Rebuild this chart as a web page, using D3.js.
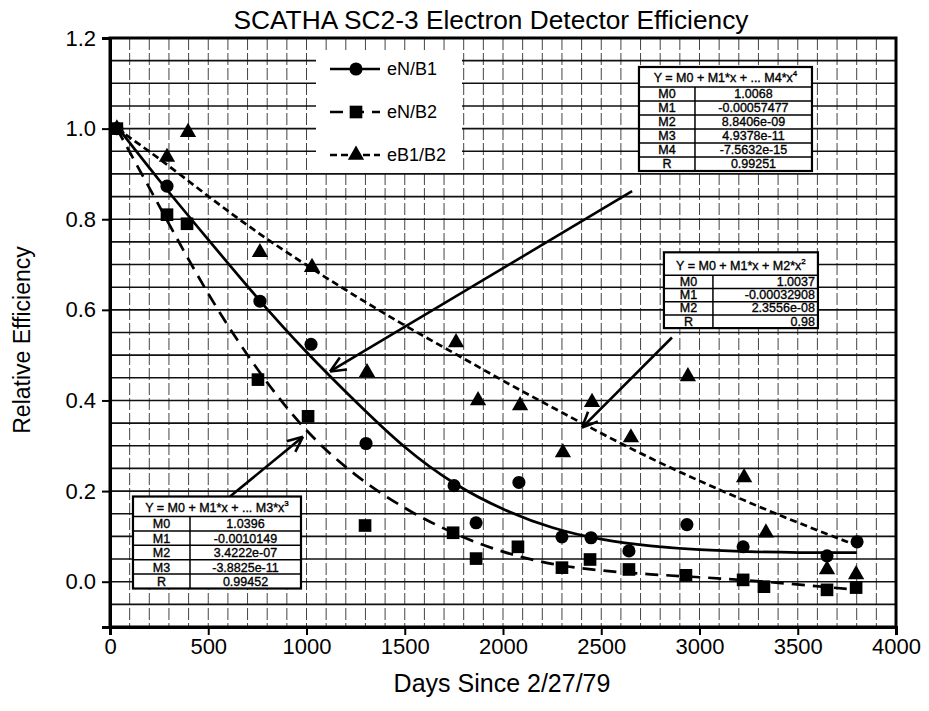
<!DOCTYPE html>
<html><head><meta charset="utf-8">
<script src="https://cdn.jsdelivr.net/npm/d3@7/dist/d3.min.js"></script>
<style>body{margin:0;background:#fff}</style>
</head><body>
<svg id="chart" width="929" height="711"></svg>
<script>
// ---------------- DATA ----------------
const titleText = "SCATHA SC2-3 Electron Detector Efficiency";
const xLabel = "Days Since 2/27/79";
const yLabel = "Relative Efficiency";
const xTicks = [0, 500, 1000, 1500, 2000, 2500, 3000, 3500, 4000];
const yTicks = [0.0, 0.2, 0.4, 0.6, 0.8, 1.0, 1.2];
const seriesNames = ["eN/B1", "eN/B2", "eB1/B2"];

// measured points
const daysNB1 = [35, 290, 763, 1023, 1303, 1751, 1863, 2081, 2300, 2448, 2641, 2936, 3222, 3649, 3802];
const effNB1  = [1.0, 0.873, 0.619, 0.524, 0.305, 0.212, 0.13, 0.219, 0.099, 0.097, 0.068, 0.126, 0.077, 0.057, 0.088];

const daysNB2 = [35, 290, 392, 753, 1008, 1298, 1746, 1863, 2076, 2300, 2443, 2641, 2931, 3222, 3328, 3649, 3797];
const effNB2  = [1.0, 0.81, 0.79, 0.446, 0.365, 0.124, 0.108, 0.051, 0.077, 0.031, 0.049, 0.027, 0.014, 0.004, -0.011, -0.018, -0.013];

const daysB12 = [35, 290, 397, 763, 1028, 1308, 1761, 1873, 2087, 2305, 2453, 2651, 2941, 3227, 3338, 3649, 3797];
const effB12  = [1.0, 0.937, 0.992, 0.727, 0.694, 0.462, 0.528, 0.40, 0.389, 0.285, 0.396, 0.318, 0.453, 0.23, 0.108, 0.027, 0.016];

// fitted curves
const fitDays  = [35, 250, 500, 750, 1000, 1250, 1500, 1750, 2000, 2250, 2500, 2750, 3000, 3250, 3500, 3800];
const fitNB1   = [1.005, 0.885, 0.755, 0.625, 0.505, 0.397, 0.293, 0.214, 0.158, 0.117, 0.092, 0.078, 0.070, 0.066, 0.064, 0.064];
const fitNB2   = [1.0, 0.83, 0.63, 0.465, 0.327, 0.232, 0.16, 0.105, 0.064, 0.037, 0.024, 0.016, 0.01, 0.003, -0.006, -0.018];
const fitB12   = [1.0, 0.935, 0.85, 0.77, 0.698, 0.63, 0.565, 0.505, 0.443, 0.385, 0.327, 0.272, 0.222, 0.175, 0.13, 0.08];

// fit tables
const quarticHeader = ["Y = M0 + M1*x + ... M4*x", "4"];
const quarticLabels = ["M0", "M1", "M2", "M3", "M4", "R"];
const quarticValues = ["1.0068", "-0.00057477", "8.8406e-09", "4.9378e-11", "-7.5632e-15", "0.99251"];

const quadHeader = ["Y = M0 + M1*x +  M2*x", "2"];
const quadLabels = ["M0", "M1", "M2", "R"];
const quadValues = ["1.0037", "-0.00032908", "2.3556e-08", "0.98"];

const cubicHeader = ["Y = M0 + M1*x + ... M3*x", "3"];
const cubicLabels = ["M0", "M1", "M2", "M3", "R"];
const cubicValues = ["1.0396", "-0.0010149", "3.4222e-07", "-3.8825e-11", "0.99452"];

// annotation anchors in data units [day, value]
const quarticAnchor = [2692, 1.136];
const quadAnchor    = [2819, 0.727];
const cubicAnchor   = [117, 0.188];
const arrowQuartic  = [[2657, 0.862], [1120, 0.464]];
const arrowQuad     = [[2860, 0.539], [2402, 0.34]];
const arrowCubic    = [[611, 0.188], [982, 0.32]];

// ---------------- CHART ----------------
const W = 929, H = 711;
const m = {left: 110, top: 38, right: 33, bottom: 84};
const pw = W - m.left - m.right, ph = H - m.top - m.bottom;
const svg = d3.select("#chart");
const g = svg.append("g").attr("transform", `translate(${m.left},${m.top})`);
const x = d3.scaleLinear().domain([0, 4000]).range([0, pw]);
const y = d3.scaleLinear().domain([-0.1, 1.2]).range([ph, 0]);
const font = "'Liberation Sans', Arial, Helvetica, sans-serif";

// grid
g.append("g").selectAll("line").data(d3.range(100, 4000, 100)).join("line")
  .attr("x1", d => x(d)).attr("x2", d => x(d)).attr("y1", 0).attr("y2", ph)
  .attr("stroke", "#444").attr("stroke-width", 1).attr("stroke-dasharray", "12,3");
g.append("g").selectAll("line").data(d3.range(1, 26).map(i => -0.1 + i * 0.05)).join("line")
  .attr("x1", 0).attr("x2", pw).attr("y1", d => y(d)).attr("y2", d => y(d))
  .attr("stroke", "#111").attr("stroke-width", 1.6);

// legend box (white, covering grid)
const lg = g.append("g").attr("transform", `translate(${316 - m.left},${50 - m.top})`);
lg.append("rect").attr("x", 0).attr("y", 0).attr("width", 146).attr("height", 122).attr("fill", "#fff");

// frame
g.append("rect").attr("x", 0).attr("y", 0).attr("width", pw).attr("height", ph)
  .attr("fill", "none").attr("stroke", "#000").attr("stroke-width", 3);

// axes
const yAxis = g.append("g").call(d3.axisLeft(y).tickValues(yTicks).tickFormat(d3.format(".1f")).tickSize(8).tickPadding(6));
const xAxis = g.append("g").attr("transform", `translate(0,${ph})`)
  .call(d3.axisBottom(x).tickValues(xTicks).tickFormat(d3.format("d")).tickSize(8).tickPadding(3));
[yAxis, xAxis].forEach(a => {
  a.select(".domain").attr("stroke-width", 3);
  a.selectAll(".tick line").attr("stroke-width", 2);
  a.selectAll("text").attr("font-family", font).attr("font-size", 22).attr("fill", "#000");
});

// fit curves
const line = d3.line().x(d => x(d[0])).y(d => y(d[1])).curve(d3.curveBasis);
const styles = [
  {dash: null, days: daysNB1, vals: effNB1, fit: fitNB1, sym: d3.symbolCircle, size: 135},
  {dash: "13,8", days: daysNB2, vals: effNB2, fit: fitNB2, sym: d3.symbolSquare, size: 160},
  {dash: "7,4", days: daysB12, vals: effB12, fit: fitB12, sym: d3.symbolTriangle, size: 115}
];
styles.forEach(s => {
  g.append("path").datum(fitDays.map((d, i) => [d, s.fit[i]]))
    .attr("d", line).attr("fill", "none").attr("stroke", "#000")
    .attr("stroke-width", 2.7).attr("stroke-dasharray", s.dash);
});
styles.forEach(s => {
  g.append("g").selectAll("path").data(s.days.map((d, i) => [d, s.vals[i]])).join("path")
    .attr("transform", d => `translate(${x(d[0])},${y(d[1])})`)
    .attr("d", d3.symbol().type(s.sym).size(s.size)).attr("fill", "#000");
});

// legend contents
styles.forEach((s, i) => {
  const cy = 19 + i * 43;
  lg.append("line").attr("x1", 14).attr("x2", 64).attr("y1", cy).attr("y2", cy)
    .attr("stroke", "#000").attr("stroke-width", 2.7).attr("stroke-dasharray", s.dash);
  lg.append("path").attr("transform", `translate(40,${cy})`)
    .attr("d", d3.symbol().type(s.sym).size(s.size)).attr("fill", "#000");
  lg.append("text").attr("x", 71).attr("y", cy + 6).text(seriesNames[i])
    .attr("font-family", font).attr("font-size", 18).attr("fill", "#000");
});

// arrows
function arrow(pts) {
  const [a, b] = pts.map(p => [x(p[0]), y(p[1])]);
  g.append("line").attr("x1", a[0]).attr("y1", a[1]).attr("x2", b[0]).attr("y2", b[1])
    .attr("stroke", "#000").attr("stroke-width", 2.6);
  const ang = Math.atan2(a[1] - b[1], a[0] - b[0]);
  [0.42, -0.42].forEach(da => {
    g.append("line").attr("x1", b[0]).attr("y1", b[1])
      .attr("x2", b[0] + 17 * Math.cos(ang + da)).attr("y2", b[1] + 17 * Math.sin(ang + da))
      .attr("stroke", "#000").attr("stroke-width", 2.6);
  });
}
arrow(arrowQuartic); arrow(arrowQuad); arrow(arrowCubic);

// tables
function table(anchor, header, labels, values, opt) {
  const tx = x(anchor[0]), ty = y(anchor[1]);
  const t = g.append("g").attr("transform", `translate(${tx},${ty})`);
  const h = opt.headH + labels.length * opt.rowH;
  t.append("rect").attr("width", opt.w).attr("height", h).attr("fill", "#fff");
  const txt = sel => sel.attr("font-family", font).attr("font-size", 12.5)
    .attr("stroke", "#000").attr("stroke-width", 0.35);
  labels.forEach((l, i) => {
    const ry = opt.headH + i * opt.rowH;
    t.append("line").attr("x1", 0).attr("x2", opt.w).attr("y1", ry).attr("y2", ry)
      .attr("stroke", "#000").attr("stroke-width", 1.5);
    t.append("text").attr("x", opt.col / 2).attr("y", ry + opt.rowH - 2.5).attr("text-anchor", "middle")
      .text(l).call(txt);
    const vx = opt.right ? opt.w - 3 : (opt.col + opt.w) / 2;
    t.append("text").attr("x", vx).attr("y", ry + opt.rowH - 2.5)
      .attr("text-anchor", opt.right ? "end" : "middle")
      .text(values[i]).call(txt);
  });
  t.append("line").attr("x1", opt.col).attr("x2", opt.col).attr("y1", opt.headH).attr("y2", h)
    .attr("stroke", "#000").attr("stroke-width", 1.5);
  const ht = t.append("text").attr("x", opt.w / 2).attr("y", opt.headH - 5).attr("text-anchor", "middle").call(txt);
  ht.append("tspan").text(header[0]);
  ht.append("tspan").text(header[1]).attr("font-size", 8).attr("dy", -6);
  t.append("rect").attr("width", opt.w).attr("height", h).attr("fill", "none")
    .attr("stroke", "#000").attr("stroke-width", 2.2);
}
table(quarticAnchor, quarticHeader, quarticLabels, quarticValues, {w: 173, headH: 20, rowH: 14, col: 56});
table(quadAnchor, quadHeader, quadLabels, quadValues, {w: 154, headH: 23, rowH: 13.2, col: 49, right: true});
table(cubicAnchor, cubicHeader, cubicLabels, cubicValues, {w: 168, headH: 20, rowH: 14.4, col: 57});

// titles
svg.append("text").attr("x", 491).attr("y", 29).attr("text-anchor", "middle")
  .attr("font-family", font).attr("font-size", 25).attr("textLength", 515).attr("lengthAdjust", "spacingAndGlyphs")
  .text(titleText);
svg.append("text").attr("x", 502).attr("y", 692).attr("text-anchor", "middle")
  .attr("font-family", font).attr("font-size", 25).text(xLabel);
svg.append("text").attr("transform", "translate(30,340) rotate(-90)").attr("text-anchor", "middle")
  .attr("font-family", font).attr("font-size", 23).text(yLabel);
</script>
</body></html>
